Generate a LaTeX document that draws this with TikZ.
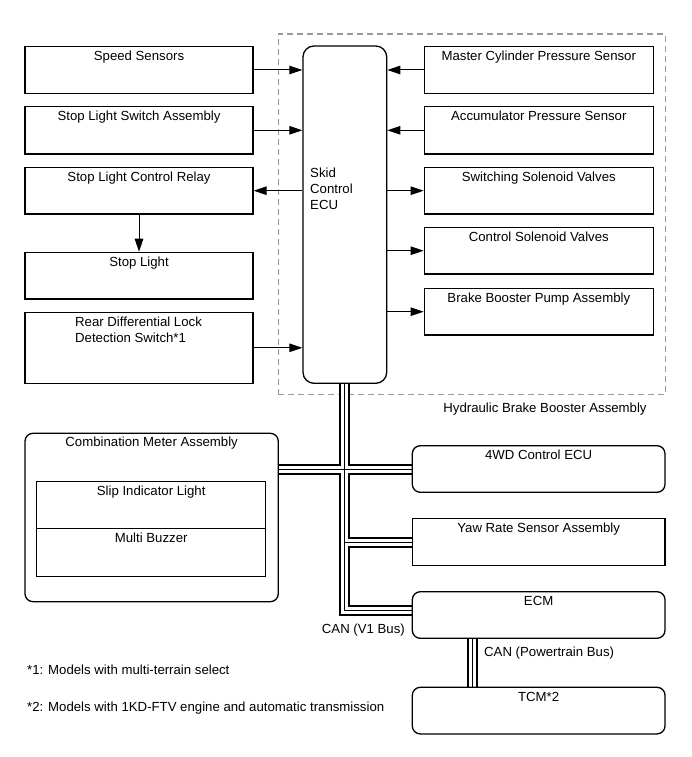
\documentclass[tikz,border=0pt]{standalone}
\usepackage{fontspec}
\setmainfont{Liberation Sans}
\usetikzlibrary{arrows.meta,calc,backgrounds}
\newcommand\busdraw[1]{%
  \draw[#1, line join=miter] (ecu.south) -- (ecu.south |- j1) -- (ecm.west |- j1);
  \draw[#1] (comb.east |- j2) -- (fwd.west |- j2);
  \draw[#1] (ecu.south |- yaw.west) -- (yaw.west);
  \draw[#1] (ecm.south -| j3) -- (tcm.north -| j3);
}
\begin{document}
\begin{tikzpicture}[x=1pt,y=-1pt,
  every node/.append style={font=\fontsize{13.2}{16}\selectfont},
  box/.style={draw, fill=white, line width=1.3pt, inner sep=0pt, rectangle},
  rbox/.style={box, rounded corners=8pt},
  txt/.style={anchor=base, inner sep=0pt},
  arr/.style={line width=1pt, -{Triangle[length=13pt,width=8.5pt]}},
  frame/.style={draw=black!40, line width=1.2pt, dash pattern=on 6pt off 4pt, inner sep=0pt},
  busouter/.style={line width=11pt, black},
  businner/.style={line width=7pt, white},
  busmid/.style={line width=1pt, black}
]
\useasboundingbox (0,0) rectangle (691,757);

% left column
\node[box, minimum width=228pt, minimum height=46.6pt] (speed) at (139,70) {};
\node[box, minimum width=228pt, minimum height=47.3pt] (sls) at (139,130.3) {};
\node[box, minimum width=228pt, minimum height=46.7pt] (relay) at (139,190.7) {};
\node[box, minimum width=228pt, minimum height=46.7pt] (stop) at (139,275.7) {};
\node[box, minimum width=228pt, minimum height=71pt] (rdl) at (139,347.8) {};
\node[txt] (speedt) at ($(speed.north)+(0,14.5)$) {Speed Sensors};
\node[txt] (slst) at ($(sls.north)+(0,14.5)$) {Stop Light Switch Assembly};
\node[txt] (relayt) at ($(relay.north)+(0,14.5)$) {Stop Light Control Relay};
\node[txt] (stopt) at ($(stop.north)+(0,14.5)$) {Stop Light};
\node[anchor=north west, inner sep=0pt, align=left] (rdlt) at (75,317.2) {Rear Differential Lock\\Detection Switch*1};

% right column
\node[box, minimum width=229pt, minimum height=46.6pt] (master) at (538.8,70) {};
\node[box, minimum width=229pt, minimum height=47.3pt] (accum) at (538.8,130.3) {};
\node[box, minimum width=229pt, minimum height=46.7pt] (switch) at (538.8,190.7) {};
\node[box, minimum width=229pt, minimum height=46.7pt] (control) at (538.8,250.7) {};
\node[box, minimum width=229pt, minimum height=46.7pt] (brake) at (538.8,311.7) {};
\node[txt] (mastert) at ($(master.north)+(0,14.5)$) {Master Cylinder Pressure Sensor};
\node[txt] (accumt) at ($(accum.north)+(0,14.5)$) {Accumulator Pressure Sensor};
\node[txt] (switcht) at ($(switch.north)+(0,14.5)$) {Switching Solenoid Valves};
\node[txt] (controlt) at ($(control.north)+(0,14.5)$) {Control Solenoid Valves};
\node[txt] (braket) at ($(brake.north)+(0,14.5)$) {Brake Booster Pump Assembly};

% ECU
\node[box, rounded corners=11pt, minimum width=83.7pt, minimum height=337.3pt] (ecu) at (344.85,214.65) {};
\node[anchor=north west, inner sep=0pt, align=left] (ecut) at (310,167.5) {Skid\\Control\\ECU};

% combination meter
\node[rbox, minimum width=253.3pt, minimum height=168.4pt] (comb) at (151.65,517.5) {};
\node[txt] (combt) at ($(comb.north)+(0,14.2)$) {Combination Meter Assembly};
\node[box, minimum width=229pt, minimum height=46.6pt] (slip) at (151.2,505) {};
\node[box, minimum width=229pt, minimum height=48.4pt] (buzz) at (151.2,552.5) {};
\node[txt] (slipt) at ($(slip.north)+(0,14.4)$) {Slip Indicator Light};
\node[txt] (buzzt) at ($(buzz.north)+(0,14.4)$) {Multi Buzzer};

% bottom right
\node[rbox, minimum width=252.7pt, minimum height=46.6pt] (fwd) at (538.65,469) {};
\node[box, minimum width=252.7pt, minimum height=47.4pt] (yaw) at (538.65,542) {};
\node[rbox, minimum width=252.7pt, minimum height=46.6pt] (ecm) at (538.65,615) {};
\node[rbox, minimum width=252.7pt, minimum height=46.6pt] (tcm) at (538.65,710.6) {};
\node[txt] (fwdt) at ($(fwd.north)+(0,14.8)$) {4WD Control ECU};
\node[txt] (yawt) at ($(yaw.north)+(0,14.8)$) {Yaw Rate Sensor Assembly};
\node[txt] (ecmt) at ($(ecm.north)+(0,14.8)$) {ECM};
\node[txt] (tcmt) at ($(tcm.north)+(0,14.5)$) {TCM*2};

% labels
\node[txt] (hbbat) at (545,412.5) {Hydraulic Brake Booster Assembly};
\node[anchor=base east, inner sep=0pt] (v1t) at (405,633.5) {CAN (V1 Bus)};
\node[anchor=base west, inner sep=0pt] (ptt) at (484,656.5) {CAN (Powertrain Bus)};
\node[anchor=base west, inner sep=0pt] (fn1) at (27,674.3) {*1: Models with multi-terrain select};
\node[anchor=base west, inner sep=0pt] (fn2) at (27,711.7) {*2: Models with 1KD-FTV engine and automatic transmission};

% bus junction coordinates
\coordinate (j1) at (345,610);
\coordinate (j2) at (345,469);
\coordinate (j3) at (472.3,0);

\begin{pgfonlayer}{background}
  \node[frame, minimum width=387.4pt, minimum height=360.3pt] (hbba) at (472,214.15) {};
  \busdraw{busouter}
  \busdraw{businner}
  \busdraw{busmid}
\end{pgfonlayer}

% arrows
\draw[arr] (speed.east) -- (speed.east -| ecu.west);
\draw[arr] (sls.east) -- (sls.east -| ecu.west);
\draw[arr] (relay.east -| ecu.west) -- (relay.east);
\draw[arr] (rdl.east) -- (rdl.east -| ecu.west);
\draw[arr] (relay.south) -- (stop.north);
\draw[arr] (master.west) -- (master.west -| ecu.east);
\draw[arr] (accum.west) -- (accum.west -| ecu.east);
\draw[arr] (switch.west -| ecu.east) -- (switch.west);
\draw[arr] (control.west -| ecu.east) -- (control.west);
\draw[arr] (brake.west -| ecu.east) -- (brake.west);
\end{tikzpicture}
\end{document}
